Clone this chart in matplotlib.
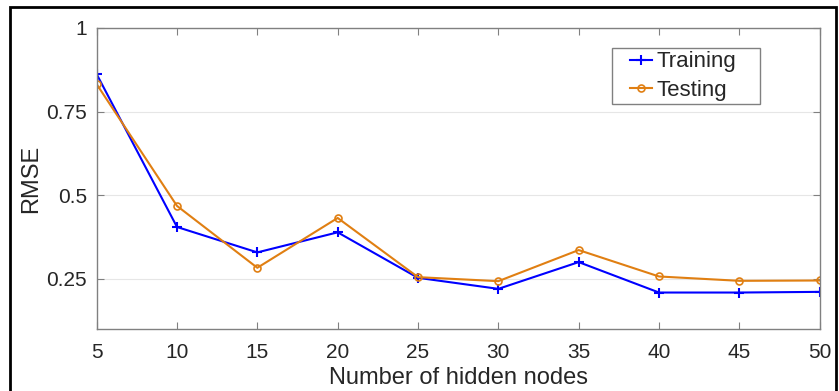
import matplotlib
matplotlib.use('Agg')
import matplotlib.pyplot as plt
from matplotlib.patches import Rectangle

nodes = [5, 10, 15, 20, 25, 30, 35, 40, 45, 50]
training = [0.862, 0.405, 0.329, 0.389, 0.253, 0.220, 0.300, 0.209, 0.209, 0.211]
testing = [0.832, 0.468, 0.283, 0.432, 0.255, 0.243, 0.336, 0.257, 0.244, 0.245]
yticks = [0.25, 0.5, 0.75, 1]
ytick_labels = ['0.25', '0.5', '0.75', '1']

plt.rcParams['font.family'] = ['Liberation Sans', 'DejaVu Sans']

fig = plt.figure(figsize=(8.39, 3.91), dpi=100)
ax = fig.add_axes([0.1152, 0.1586, 0.8618, 0.7698])

ax.plot(nodes, training, color='#0000ff', marker='+', markersize=6.5, markeredgewidth=1.5,
        linewidth=1.5, label='Training')
ax.plot(nodes, testing, color='#e07f12', marker='o', markersize=5, markerfacecolor='none',
        markeredgewidth=1.2, linewidth=1.5, label='Testing')

ax.set_xlim(5, 50)
ax.set_ylim(0.1, 1)
ax.set_xticks(nodes)
ax.set_yticks(yticks)
ax.set_yticklabels(ytick_labels)
ax.grid(axis='y', color='#e6e6e6', linewidth=0.8)
ax.set_axisbelow(True)

ax.tick_params(direction='in', top=True, right=True, length=5, width=0.8,
               colors='#808080', labelcolor='#262626', labelsize=15)
ax.tick_params(axis='x', pad=10)
ax.tick_params(axis='y', pad=7)
for s in ax.spines.values():
    s.set_color('#808080')
    s.set_linewidth(1.0)

ax.set_xlabel('Number of hidden nodes', fontsize=17, color='#262626', labelpad=4)
ax.set_ylabel('RMSE', fontsize=17, color='#262626', labelpad=3)

# legend without its own frame; frame drawn below with wider side margins (MATLAB look)
leg = ax.legend(loc='upper right', bbox_to_anchor=(0.888, 0.93), borderaxespad=0,
                fontsize=16, handlelength=1.0, handletextpad=0.2, borderpad=0.1,
                labelspacing=0.35, frameon=False)
for t in leg.get_texts():
    t.set_color('#262626')

fig.canvas.draw()
bb = leg.get_window_extent()
fig.patches.append(Rectangle(((bb.x0 - 16) / 839, (bb.y0 - 1) / 391),
                             (bb.width + 37) / 839, (bb.height + 2) / 391,
                             transform=fig.transFigure, fill=False,
                             edgecolor='#808080', linewidth=1.0))

fig.patches.append(Rectangle((10 / 839, -0.05), 826 / 839, 1 - 7 / 391 + 0.05,
                             transform=fig.transFigure, fill=False,
                             edgecolor='black', linewidth=2))

fig.savefig('out.png', dpi=100)
